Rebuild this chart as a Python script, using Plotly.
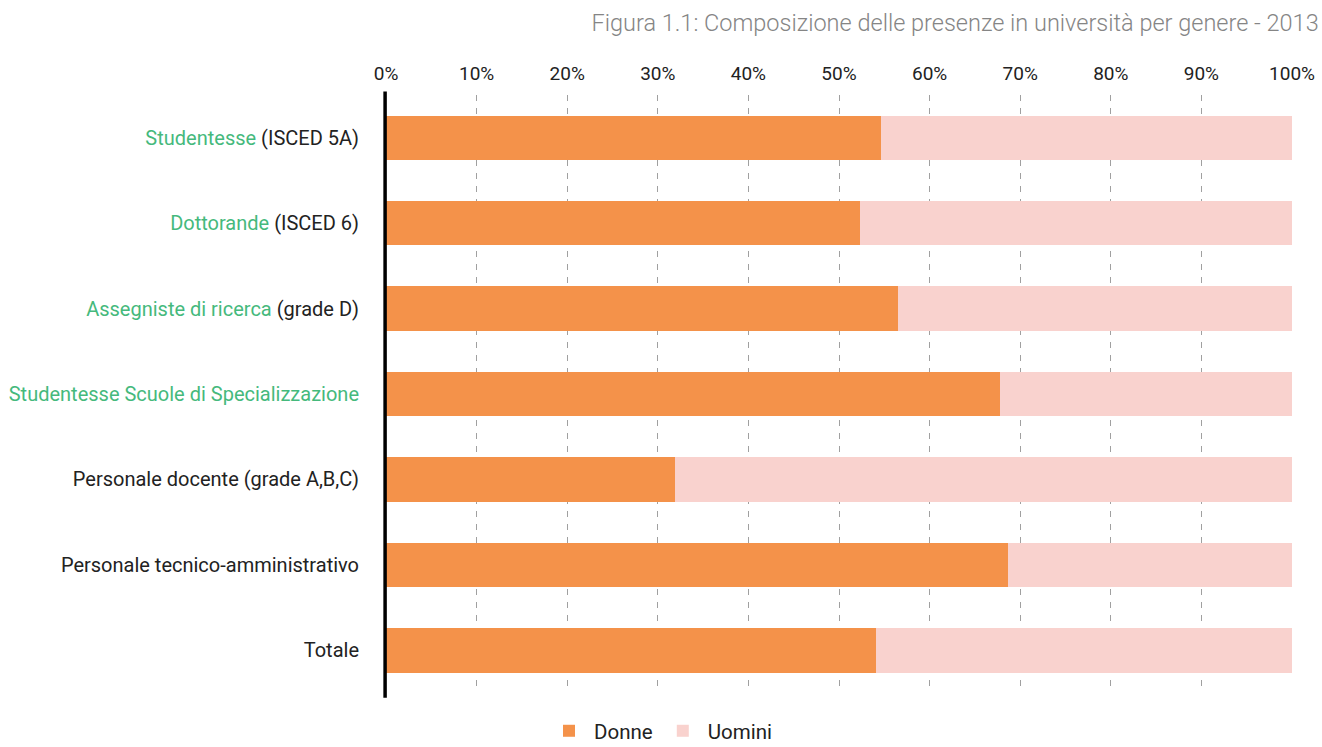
import plotly.graph_objects as go

# Categories (top to bottom); green part of each label, then dark part
label_green = ["Studentesse", "Dottorande", "Assegniste di ricerca",
               "Studentesse Scuole di Specializzazione", "", "", ""]
label_dark = ["(ISCED 5A)", "(ISCED 6)", "(grade D)", "",
              "Personale docente (grade A,B,C)",
              "Personale tecnico-amministrativo", "Totale"]

# Share of women and men (%)
donne = [54.6, 52.3, 56.5, 67.8, 31.9, 68.7, 54.1]
uomini = [45.4, 47.7, 43.5, 32.2, 68.1, 31.3, 45.9]

x_ticks = [0, 10, 20, 30, 40, 50, 60, 70, 80, 90, 100]

GREEN = "#45b97c"
DARK = "#222222"
ORANGE = "#f4924a"
PINK = "#f9d2ce"

categories = [f"c{i}" for i in range(len(donne))]
ticktext = []
for g, d in zip(label_green, label_dark):
    parts = []
    if g:
        parts.append(f"<span style='color:{GREEN}'>{g}</span>")
    if d:
        parts.append(f"<span style='color:{DARK}'>{d}</span>")
    ticktext.append(" ".join(parts))

fig = go.Figure()
fig.add_trace(go.Bar(y=categories, x=donne, name="Donne", orientation="h",
                     marker=dict(color=ORANGE, line=dict(width=0))))
fig.add_trace(go.Bar(y=categories, x=uomini, name="Uomini", orientation="h",
                     marker=dict(color=PINK, line=dict(width=0))))

fig.update_layout(
    width=1322, height=747,
    barmode="stack", bargap=0.48,
    paper_bgcolor="white", plot_bgcolor="white",
    margin=dict(l=386, r=30, t=95, b=54, autoexpand=False),
    font=dict(family="Roboto", size=20, color=DARK),
    title=dict(text="Figura 1.1: Composizione delle presenze in università per genere - 2013",
               x=0.9975, xanchor="right", y=0.97, yanchor="middle",
               xref="container", yref="container",
               font=dict(family="Roboto", size=23.5, color="#858585", weight=300)),
    xaxis=dict(side="top", range=[0, 100], tickvals=x_ticks,
               ticktext=[f"{v}%" for v in x_ticks], automargin=False,
               showgrid=True, gridcolor="#a0a0a0", griddash="6px,7px", gridwidth=1.4,
               zeroline=False, showline=False, ticks="",
               ticklabelstandoff=10,
               tickfont=dict(size=19, color=DARK), fixedrange=True),
    yaxis=dict(tickvals=categories, ticktext=ticktext, autorange="reversed",
               automargin=False,
               showgrid=False, zeroline=False, showline=False, ticks="",
               ticklabelstandoff=26, tickfont=dict(size=20), fixedrange=True),
    legend=dict(orientation="h", xref="container", yref="paper",
                x=0.5, xanchor="center", y=-0.03, yanchor="top",
                font=dict(size=20.5, color=DARK), itemwidth=40,
                traceorder="normal"),
    showlegend=True,
)

# Black baseline at 0% (paper coordinates so it is not clipped by the plot area)
fig.add_shape(type="line", xref="paper", yref="paper", x0=-0.001, x1=-0.001,
              y0=-0.008, y1=1.006,
              line=dict(color="black", width=3.5), layer="above")

fig.write_html("out.html")
